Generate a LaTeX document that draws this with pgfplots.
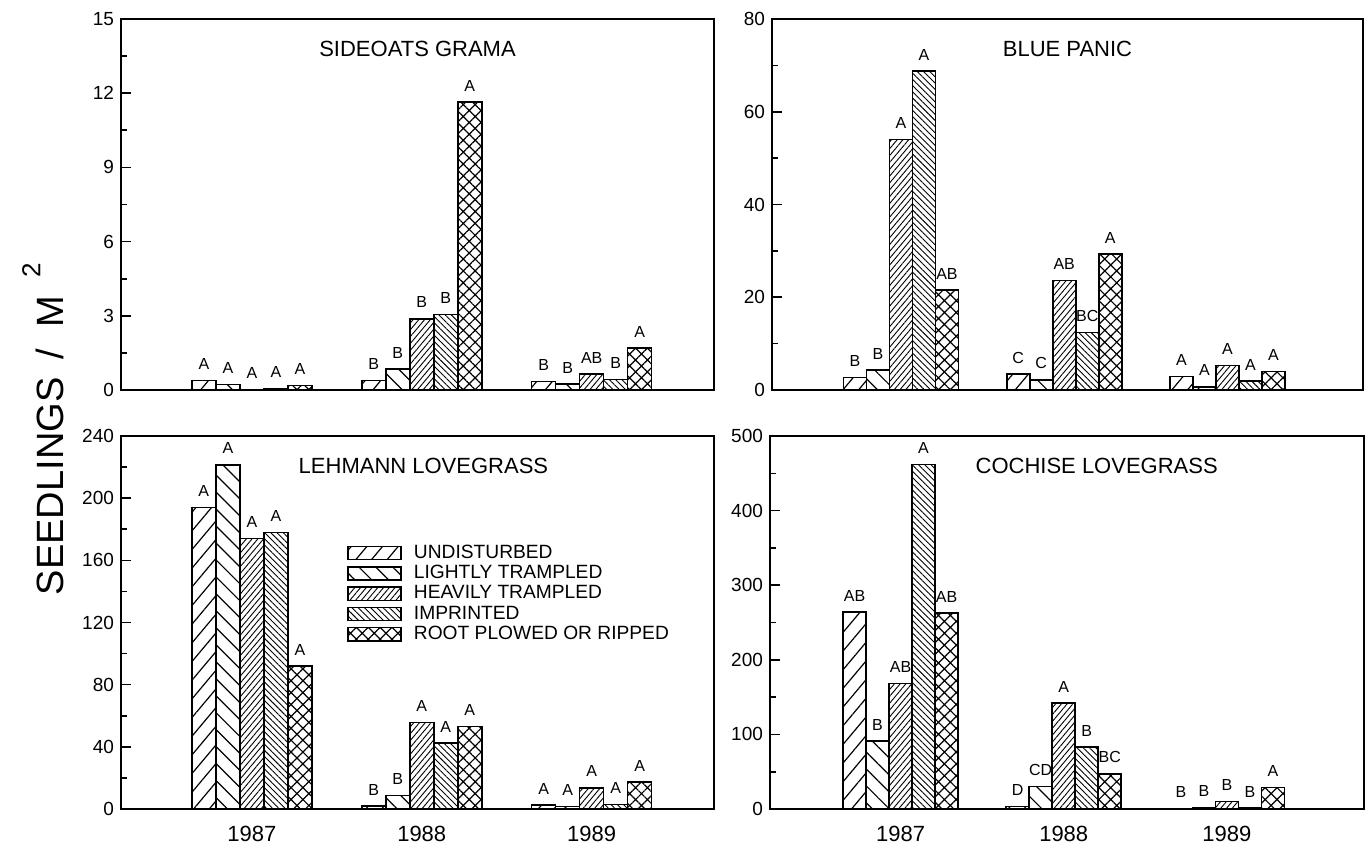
\documentclass[border=0pt]{standalone}
\usepackage{fontspec}
\setmainfont{Liberation Sans}
\usepackage{pgfplots}
\usepackage{pgfplotstable}
\pgfplotsset{compat=1.18}
\usetikzlibrary{patterns.meta}

\pgfplotstableread{
x U Ul L Ll H Hl I Il R Rl
1 0.38 A 0.22 A 0.02 A 0.06 A 0.18 A
2 0.38 B 0.84 B 2.88 B 3.05 B 11.65 A
3 0.34 B 0.24 B 0.65 AB 0.43 B 1.69 A
}\sideoats

\pgfplotstableread{
x U Ul L Ll H Hl I Il R Rl
1 2.7 B 4.3 B 54.0 A 68.8 A 21.6 AB
2 3.45 C 2.2 C 23.6 AB 12.4 BC 29.3 A
3 2.9 A 0.7 A 5.3 A 1.9 A 4.0 A
}\bluepanic

\pgfplotstableread{
x U Ul L Ll H Hl I Il R Rl
1 194 A 221.5 A 174 A 178 A 92 A
2 2.0 B 8.6 B 55.6 A 42.3 A 53 A
3 2.6 A 1.5 A 13.7 A 2.8 A 17.2 A
}\lehmann

\pgfplotstableread{
x U Ul L Ll H Hl I Il R Rl
1 264 AB 91 B 168 AB 462 A 263 AB
2 3.6 D 30.4 CD 142 A 83 B 47 BC
3 0.5 B 2.0 B 9.8 B 1.3 B 29 A
}\cochise

\tikzset{
 s1/.style={draw=black,line width=0.8pt,pattern={Lines[angle=50,distance=6pt,line width=0.6pt]}},
 s2/.style={draw=black,line width=0.8pt,pattern={Lines[angle=-45,distance=6pt,line width=0.6pt]}},
 s3/.style={draw=black,line width=0.8pt,pattern={Lines[angle=50,distance=2.2pt,line width=0.45pt]}},
 s4/.style={draw=black,line width=0.8pt,pattern={Lines[angle=-45,distance=2.2pt,line width=0.45pt]}},
 s5/.style={draw=black,line width=0.8pt,pattern={Hatch[angle=45,distance=4.2pt,line width=0.6pt]}},
 ptitle/.style={font=\fontsize{11}{12}\selectfont,anchor=center},
}

\pgfplotsset{panel/.style={
  scale only axis,
  anchor=south west,
  ybar=0pt,
  ymin=0,
  axis line style={line width=1.2pt},
  tick align=inside,
  ytick pos=left,
  minor y tick num=1,
  major tick length=5pt,
  minor tick length=3pt,
  every tick/.style={line width=0.8pt,black},
  yticklabel style={font=\fontsize{9.5}{10}\selectfont},
  /pgf/number format/assume math mode=true,
  nodes near coords,
  point meta=explicit symbolic,
  every node near coord/.append style={font=\fontsize{8}{8}\selectfont,inner sep=1pt,anchor=south,yshift=4pt},
  clip=false,
 },
 bottompanel/.style={
  xtick={1,2,3},
  xticklabels={1987,1988,1989},
  major x tick style={draw=none},
  xticklabel style={font=\fontsize{11}{12}\selectfont,yshift=-5pt},
 }
}

\begin{document}
\begin{tikzpicture}
\path[use as bounding box] (0,0) rectangle (685pt,426.5pt);

% top-left
\begin{axis}[panel, at={(60.5pt,231.5pt)}, width=296.5pt, height=185.5pt,
  xmin=0.23, xmax=3.72, ymax=15, ytick={0,3,...,15}, bar width=12pt, xtick=\empty]
\addplot[s1] table[x=x,y=U,meta=Ul]{\sideoats};
\addplot[s2] table[x=x,y=L,meta=Ll]{\sideoats};
\addplot[s3] table[x=x,y=H,meta=Hl]{\sideoats};
\addplot[s4] table[x=x,y=I,meta=Il]{\sideoats};
\addplot[s5] table[x=x,y=R,meta=Rl]{\sideoats};
\node[ptitle] at (rel axis cs:0.5,0.92) {SIDEOATS GRAMA};
\end{axis}

% top-right
\begin{axis}[panel, at={(386pt,231.5pt)}, width=295.5pt, height=185.5pt,
  xmin=0.21, xmax=3.83, ymax=80, ytick={0,20,...,80}, bar width=11.5pt, xtick=\empty]
\addplot[s1] table[x=x,y=U,meta=Ul]{\bluepanic};
\addplot[s2] table[x=x,y=L,meta=Ll]{\bluepanic};
\addplot[s3] table[x=x,y=H,meta=Hl]{\bluepanic};
\addplot[s4] table[x=x,y=I,meta=Il]{\bluepanic};
\addplot[s5] table[x=x,y=R,meta=Rl]{\bluepanic};
\node[ptitle] at (rel axis cs:0.5,0.92) {BLUE PANIC};
\end{axis}

% bottom-left
\begin{axis}[panel, bottompanel, at={(60.5pt,22pt)}, width=296.5pt, height=186.5pt,
  xmin=0.23, xmax=3.72, ymax=240, ytick={0,40,...,240}, bar width=12pt,
  legend image code/.code={\draw[#1] (0pt,-3.3pt) rectangle (26.5pt,3.3pt);},
  legend style={at={(0.381,0.72)}, anchor=north west, draw=none, fill=none,
    font=\fontsize{9.6}{10}\selectfont, inner sep=0pt, row sep=-2pt, column sep=4pt,
    cells={anchor=west}},
  ]
\addplot[s1] table[x=x,y=U,meta=Ul]{\lehmann};
\addlegendentry{UNDISTURBED}
\addplot[s2] table[x=x,y=L,meta=Ll]{\lehmann};
\addlegendentry{LIGHTLY TRAMPLED}
\addplot[s3] table[x=x,y=H,meta=Hl]{\lehmann};
\addlegendentry{HEAVILY TRAMPLED}
\addplot[s4] table[x=x,y=I,meta=Il]{\lehmann};
\addlegendentry{IMPRINTED}
\addplot[s5] table[x=x,y=R,meta=Rl]{\lehmann};
\addlegendentry{ROOT PLOWED OR RIPPED}
\node[ptitle] at (rel axis cs:0.51,0.92) {LEHMANN LOVEGRASS};
\end{axis}

% bottom-right
\begin{axis}[panel, bottompanel, at={(385pt,22pt)}, width=297pt, height=186.5pt,
  xmin=0.2, xmax=3.84, ymax=500, ytick={0,100,...,500}, bar width=11.5pt]
\addplot[s1] table[x=x,y=U,meta=Ul]{\cochise};
\addplot[s2] table[x=x,y=L,meta=Ll]{\cochise};
\addplot[s3] table[x=x,y=H,meta=Hl]{\cochise};
\addplot[s4] table[x=x,y=I,meta=Il]{\cochise};
\addplot[s5] table[x=x,y=R,meta=Rl]{\cochise};
\node[ptitle] at (rel axis cs:0.55,0.92) {COCHISE LOVEGRASS};
\end{axis}

\node[rotate=90, font=\fontsize{19}{19}\selectfont] at (21.5pt,212pt)
  {SEEDLINGS\hspace{9pt}/\hspace{11pt}M\hspace{9pt}\raisebox{0.6em}{\fontsize{13}{13}\selectfont 2}};
\end{tikzpicture}
\end{document}
